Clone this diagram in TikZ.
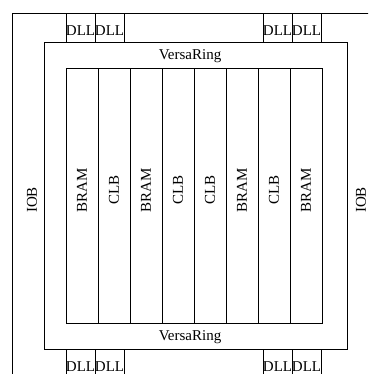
\documentclass[tikz,border=0pt]{standalone}
\usepackage{fontspec}
\setmainfont{Liberation Serif}
\begin{document}
\begin{tikzpicture}[x=1pt,y=-1pt,
  line/.style={draw=black,line width=0.8pt},
  lbl/.style={inner sep=0pt,font=\fontsize{15}{17}\selectfont},
  vlbl/.style={lbl,rotate=90}]
\useasboundingbox (0,0) rectangle (368,374);
\clip (0,0) rectangle (368,374);
\fill[white] (0,0) rectangle (368,374);

% IOB ring (extends past the right and bottom borders)
\draw[line] (12,400) -- (12,13) -- (400,13);
\node[vlbl] (iobL) at (32,200) {IOB};
\node[vlbl] (iobR) at (361,200) {IOB};

% VersaRing
\draw[line] (44,42) rectangle (347,349);
\node[lbl] (vrT) at (190,56) {VersaRing};
\node[lbl] (vrB) at (190,337) {VersaRing};

% column blocks
\foreach \name [count=\i from 0] in {BRAM,CLB,BRAM,CLB,CLB,BRAM,CLB,BRAM}{
  \draw[line] ({66+32*\i},68) rectangle ({98+32*\i},323);
  \node[vlbl] (col\i) at ({82+32*\i},190) {\name};
}

% DLL blocks
\foreach \x [count=\i] in {66,95,263,292}{
  \draw[line] (\x,13) rectangle ++(29,29);
  \node[lbl] (dllT\i) at ({\x+14.5},31) {DLL};
  \draw[line] (\x,349) rectangle ++(29,29);
  \node[lbl] (dllB\i) at ({\x+14.5},367) {DLL};
}
\end{tikzpicture}
\end{document}
